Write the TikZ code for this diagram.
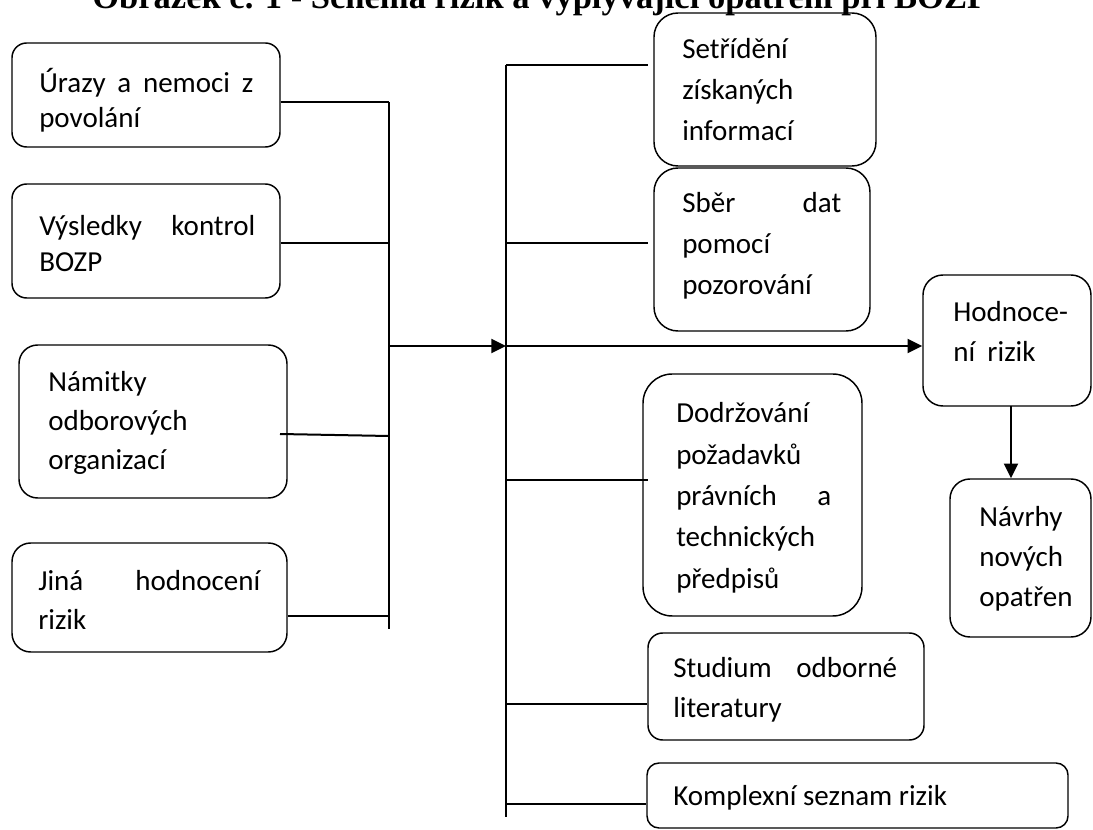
\documentclass[tikz,border=0pt]{standalone}
\usepackage{fontspec}
\setmainfont{Carlito}
\newfontfamily\titlefont{Liberation Serif}
\usetikzlibrary{fit,arrows.meta}
\newcommand{\jline}[2]{\makebox[\dimexpr #1pt*3/4\relax][s]{#2}}
\begin{document}
\begin{tikzpicture}[x=0.75pt,y=-0.75pt,
  rbox/.style={draw, line width=1.1pt, inner sep=0pt, rounded corners=#1},
  rbox/.default=11pt,
  txt/.style={inner sep=0pt, anchor=base west, font=\fontsize{21.75pt}{#1}\selectfont},
  wire/.style={line width=1.5pt},
  arr/.style={wire, -{Triangle[length=11pt,width=10.5pt]}}]
\useasboundingbox (0,0) rectangle (1093,830);

% title (cut at the top)
\node[anchor=base west, inner sep=0pt, font=\titlefont\bfseries\fontsize{25.9pt}{30pt}\selectfont] (title) at (92,9)
  {Obrázek č. 1 - Schéma rizik a vyplývající opatření při BOZP};

% left boxes
\node[rbox=11pt, fit={(12,43)(280,147)}] (b1) {};
\node[txt=26.25pt] (t1) at (39,93) {\vtop{\hbox{\jline{214}{Úrazy a nemoci z}}\hbox{povolání}}};
\node[rbox=11pt, fit={(12,184)(280,298)}] (b2) {};
\node[txt=27pt] (t2) at (39,236) {\vtop{\hbox{\jline{216}{Výsledky kontrol}}\hbox{BOZP}}};
\node[rbox=14pt, fit={(19,345)(287,498)}] (b3) {};
\node[txt=29.25pt] (t3) at (48,392) {\vtop{\hbox{Námitky}\hbox{odborových}\hbox{organizací}}};
\node[rbox=14pt, fit={(12,543)(287,652)}] (b4) {};
\node[txt=29.25pt] (t4) at (38,590) {\vtop{\hbox{\jline{222}{Jiná hodnocení}}\hbox{rizik}}};

% middle boxes
\node[rbox=18pt, fit={(654,13)(876,166)}] (bA) {};
\node[txt=30.75pt] (tA) at (682,59) {\vtop{\hbox{Setřídění}\hbox{získaných}\hbox{informací}}};
\node[rbox=18pt, fit={(654,168)(870,331)}] (bB) {};
\node[txt=30.75pt] (tB) at (682,213) {\vtop{\hbox{\jline{159}{Sběr dat}}\hbox{pomocí}\hbox{pozorování}}};
\node[rbox=22pt, fit={(643,374)(862,616)}] (bD) {};
\node[txt=30.94pt] (tD) at (676,423) {\vtop{\hbox{Dodržování}\hbox{požadavků}\hbox{\jline{155}{právních a}}\hbox{technických}\hbox{předpisů}}};
\node[rbox=11pt, fit={(648,633)(924,740)}] (bS) {};
\node[txt=30pt] (tS) at (673,677) {\vtop{\hbox{\jline{224}{Studium odborné}}\hbox{literatury}}};
\node[rbox=9pt, fit={(647,763)(1068,828)}] (bK) {};
\node[txt=30pt] (tK) at (673,805) {Komplexní seznam rizik};

% right boxes
\node[rbox=15pt, fit={(923,275)(1091,406)}] (bH) {};
\node[txt=30pt] (tH) at (953,322) {\vtop{\hbox{Hodnoce-}\hbox{ní\hspace{0.2em} rizik}}};
\node[rbox=15pt, fit={(950,479)(1091,637)}] (bN) {};
\node[txt=30pt] (tN) at (979,527) {\vtop{\hbox{Návrhy}\hbox{nových}\hbox{opatřen}}};

% left bus
\coordinate (L) at (389,102);
\coordinate (Lb) at (389,629);
\draw[wire] (L) -- (Lb);
\draw[wire] (b1.east |- L) -- (L);
\coordinate (j2) at (389,243);
\draw[wire] (b2.east |- j2) -- (j2);
\coordinate (s3) at (280,434);
\coordinate (j3) at (389,436);
\draw[wire] (s3) -- (j3);
\coordinate (j4) at (389,616);
\draw[wire] (b4.east |- j4) -- (j4);

% main arrow
\coordinate (jm) at (389,346);
\coordinate (M) at (506,346);
\draw[arr] (jm) -- (M);

% middle bus
\coordinate (Mt) at (506,65);
\coordinate (Mb) at (506,817);
\draw[wire] (Mt) -- (Mb);
\coordinate (eA) at (648,65);
\draw[wire] (Mt) -- (eA);
\coordinate (mB) at (506,243);
\coordinate (eB) at (648,243);
\draw[wire] (mB) -- (eB);
\coordinate (mD) at (506,480);
\coordinate (eD) at (648,480);
\draw[wire] (mD) -- (eD);
\coordinate (mS) at (506,704);
\draw[wire] (mS) -- (mS -| bS.west);
\coordinate (mK) at (506,804);
\draw[wire] (mK) -- (mK -| bK.west);

% to the right
\draw[arr] (M) -- (M -| bH.west);
\coordinate (h1) at (1011,406);
\draw[arr] (h1) -- (h1 |- bN.north);
\end{tikzpicture}
\end{document}
